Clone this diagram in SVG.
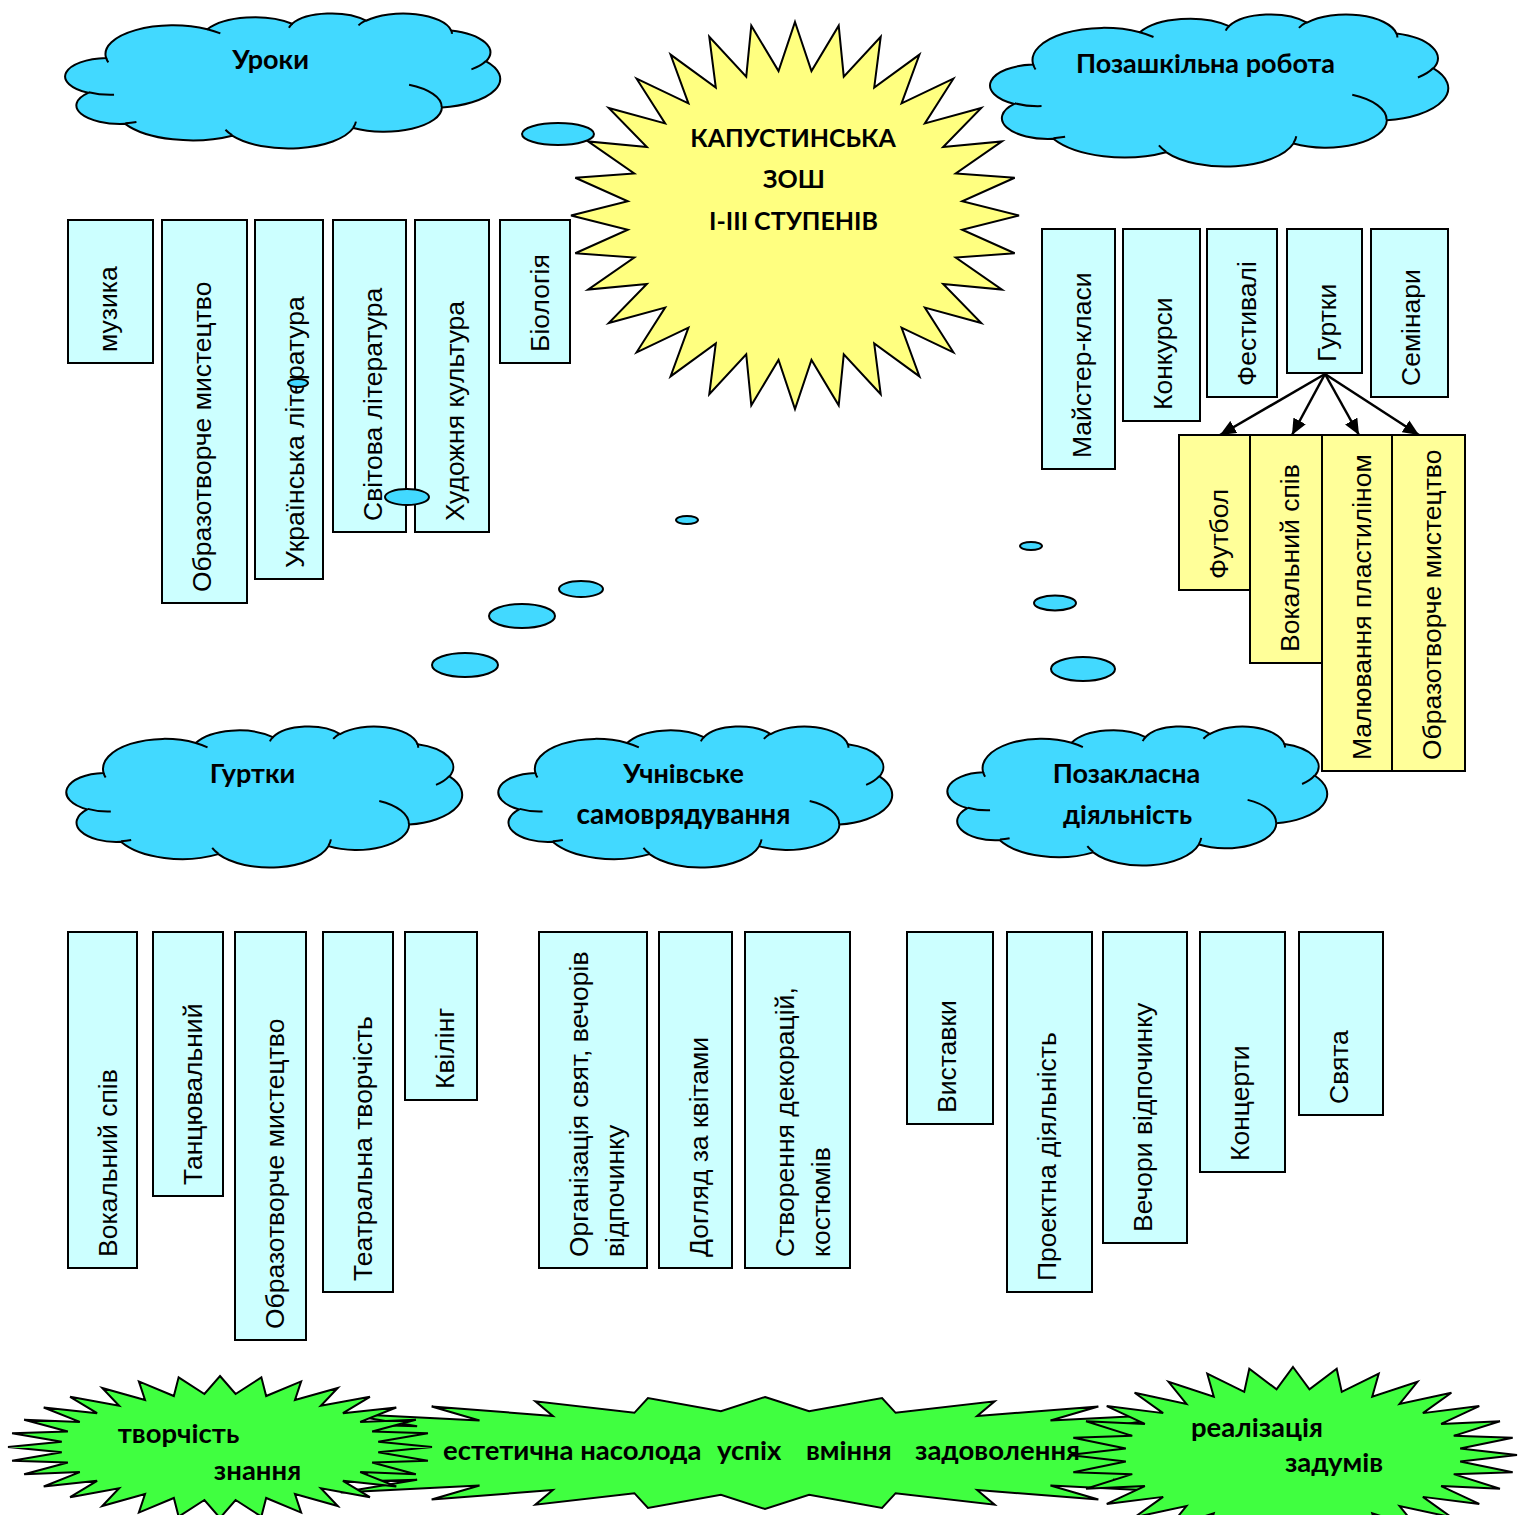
<svg xmlns="http://www.w3.org/2000/svg" width="1524" height="1515" viewBox="0 0 1524 1515">
<style>
.box{fill:#CCFFFF;stroke:#000;stroke-width:2}
.ybox{fill:#FFFF99;stroke:#000;stroke-width:2}
.bt{font-family:"Liberation Sans",Arial,sans-serif;font-size:26.5px;fill:#000}
.lb{font-family:Lato,"Noto Sans",sans-serif;font-weight:bold;font-size:27px;fill:#000;text-anchor:middle}
.gl{font-family:Lato,"Noto Sans",sans-serif;font-weight:bold;font-size:27.5px;fill:#000}
.bub{fill:#42D9FF;stroke:#000;stroke-width:2}
.cl{fill:#42D9FF}
.sun{fill:#FFFF80}
.grn{fill:#40FF40}
</style>
<defs>
<g id="cloud">
<path vector-effect="non-scaling-stroke" stroke="#000" stroke-width="2" d="M3900,14370 A6753,9190 0 0 1 14005,5202 A5333,7267 0 0 1 22457,3430 A4365,5945 0 0 1 29833,2477 A4857,6595 0 0 1 38318,5572 A5333,7273 0 0 1 41819,15456 A6775,9220 0 0 1 37406,30202 A5785,7867 0 0 1 28557,36812 A6752,9215 0 0 1 16482,39265 A7720,10543 0 0 1 5805,35469 A4360,5918 0 0 1 2112,25549 A4345,5945 0 0 1 3900,14370 Z"/>
<path vector-effect="non-scaling-stroke" fill="none" stroke="#000" stroke-width="2" d="M4693,26177 A4345,5945 0 0 1 2160,25380 M6928,34899 A4360,5918 0 0 1 5820,35280 M16478,39090 A6752,9215 0 0 1 15810,37349 M28827,34751 A6752,9215 0 0 1 28560,36660 M34129,22954 A5785,7867 0 0 1 37380,30089 M41798,15354 A5333,7273 0 0 1 40349,18031 M38324,5426 A4857,6595 0 0 1 38400,6690 M29078,3952 A4857,6595 0 0 1 29820,2340 M22141,4720 A4365,5945 0 0 1 22500,3330 M14000,5192 A6753,9190 0 0 1 15299,6540 M4127,15789 A6753,9190 0 0 1 3900,14371"/>
</g>
<polygon id="star32" vector-effect="non-scaling-stroke" stroke="#000" stroke-width="2" stroke-linejoin="miter" points="0,-1000 73.5,-746.4 195.1,-980.8 217.7,-717.7 382.7,-923.9 353.6,-661.4 555.6,-831.5 475.8,-579.8 707.1,-707.1 579.8,-475.8 831.5,-555.6 661.4,-353.6 923.9,-382.7 717.7,-217.7 980.8,-195.1 746.4,-73.5 1000,0 746.4,73.5 980.8,195.1 717.7,217.7 923.9,382.7 661.4,353.6 831.5,555.6 579.8,475.8 707.1,707.1 475.8,579.8 555.6,831.5 353.6,661.4 382.7,923.9 217.7,717.7 195.1,980.8 73.5,746.4 0,1000 -73.5,746.4 -195.1,980.8 -217.7,717.7 -382.7,923.9 -353.6,661.4 -555.6,831.5 -475.8,579.8 -707.1,707.1 -579.8,475.8 -831.5,555.6 -661.4,353.6 -923.9,382.7 -717.7,217.7 -980.8,195.1 -746.4,73.5 -1000,0 -746.4,-73.5 -980.8,-195.1 -717.7,-217.7 -923.9,-382.7 -661.4,-353.6 -831.5,-555.6 -579.8,-475.8 -707.1,-707.1 -475.8,-579.8 -555.6,-831.5 -353.6,-661.4 -382.7,-923.9 -217.7,-717.7 -195.1,-980.8 -73.5,-746.4"/>
<marker id="ah" markerUnits="userSpaceOnUse" viewBox="0 0 16 14" markerWidth="16" markerHeight="14" refX="16" refY="7" orient="auto">
<path d="M0,0 L16,7 L0,14 Z" fill="#000"/>
</marker>
</defs>

<!-- top-left lesson boxes -->
<g id="n-muzyka"><rect class="box" x="68" y="220" width="85" height="143"/><text class="bt" transform="translate(116.5,352) rotate(-90)">музика</text></g>
<g id="n-obraz1"><rect class="box" x="162" y="220" width="85" height="383"/><text class="bt" transform="translate(210.5,592) rotate(-90)">Образотворче мистецтво</text></g>
<g id="n-ukrlit"><rect class="box" x="255" y="220" width="68" height="359"/><text class="bt" transform="translate(303.5,568) rotate(-90)">Українська література</text></g>
<g id="n-svitlit"><rect class="box" x="333" y="220" width="73" height="312"/><text class="bt" transform="translate(381.5,521) rotate(-90)">Світова література</text></g>
<g id="n-khudkult"><rect class="box" x="415" y="220" width="74" height="312"/><text class="bt" transform="translate(463.5,521) rotate(-90)">Художня культура</text></g>
<g id="n-biol"><rect class="box" x="500" y="220" width="70" height="143"/><text class="bt" transform="translate(548.5,352) rotate(-90)">Біологія</text></g>

<!-- sun -->
<g id="n-sun">
<use href="#star32" class="sun" transform="translate(795,215.5) scale(0.224,0.1935)"/>
<text class="lb" style="font-size:25px" x="793" y="147">КАПУСТИНСЬКА</text>
<text class="lb" style="font-size:25px" x="794" y="188">ЗОШ</text>
<text class="lb" style="font-size:25px" x="793.5" y="230">І-ІІІ СТУПЕНІВ</text>
</g>

<!-- clouds -->
<g id="n-uroky"><use href="#cloud" class="cl" transform="translate(67,13) scale(0.010023,0.003125)"/><text class="lb" x="270.5" y="69">Уроки</text></g>
<g id="n-pozashk"><use href="#cloud" class="cl" transform="translate(992,14) scale(0.010556,0.003519)"/><text class="lb" x="1205.5" y="73">Позашкільна робота</text></g>
<g id="n-hurtky"><use href="#cloud" class="cl" transform="translate(68,726) scale(0.009120,0.003264)"/><text class="lb" x="252.5" y="783">Гуртки</text></g>
<g id="n-samovr"><use href="#cloud" class="cl" transform="translate(500,726) scale(0.009074,0.003264)"/><text class="lb" x="683.5" y="783">Учнівське</text><text class="lb" x="683.5" y="824" style="font-size:28px">самоврядування</text></g>
<g id="n-pozakl"><use href="#cloud" class="cl" transform="translate(949,726) scale(0.008750,0.003218)"/><text class="lb" x="1126.5" y="783">Позакласна</text><text class="lb" x="1127.5" y="824">діяльність</text></g>

<!-- right-top boxes -->
<g id="n-majster"><rect class="box" x="1042" y="229" width="73" height="240"/><text class="bt" transform="translate(1090.5,458) rotate(-90)">Майстер-класи</text></g>
<g id="n-konkursy"><rect class="box" x="1123" y="229" width="77" height="192"/><text class="bt" transform="translate(1171.5,410) rotate(-90)">Конкурси</text></g>
<g id="n-festyvali"><rect class="box" x="1207" y="229" width="70" height="168"/><text class="bt" transform="translate(1255.5,386) rotate(-90)">Фестивалі</text></g>
<g id="n-hurtky2"><rect class="box" x="1287" y="229" width="75" height="144"/><text class="bt" transform="translate(1335.5,362) rotate(-90)">Гуртки</text></g>
<g id="n-seminary"><rect class="box" x="1371" y="229" width="77" height="168"/><text class="bt" transform="translate(1419.5,386) rotate(-90)">Семінари</text></g>

<g id="n-futbol"><rect class="ybox" x="1179" y="435" width="71" height="155"/><text class="bt" transform="translate(1227.5,579) rotate(-90)">Футбол</text></g>
<g id="n-vokal2"><rect class="ybox" x="1250" y="435" width="72" height="228"/><text class="bt" transform="translate(1298.5,652) rotate(-90)">Вокальний спів</text></g>
<g id="n-maliuv"><rect class="ybox" x="1322" y="435" width="70" height="336"/><text class="bt" transform="translate(1370.5,760) rotate(-90)">Малювання пластиліном</text></g>
<g id="n-obraz3"><rect class="ybox" x="1392" y="435" width="73" height="336"/><text class="bt" transform="translate(1440.5,760) rotate(-90)">Образотворче мистецтво</text></g>

<g id="connectors" stroke="#000" stroke-width="2.5" fill="none">
<line x1="1325" y1="374" x2="1220" y2="435" marker-end="url(#ah)"/>
<line x1="1325" y1="374" x2="1292" y2="435" marker-end="url(#ah)"/>
<line x1="1325" y1="374" x2="1359" y2="435" marker-end="url(#ah)"/>
<line x1="1325" y1="374" x2="1419" y2="435" marker-end="url(#ah)"/>
</g>

<!-- bubbles -->
<g id="bubbles">
<ellipse class="bub" cx="558" cy="134" rx="36" ry="11"/>
<ellipse class="bub" cx="298" cy="383" rx="10" ry="4"/>
<ellipse class="bub" cx="407" cy="497" rx="22" ry="8"/>
<ellipse class="bub" cx="687" cy="520" rx="11" ry="4"/>
<ellipse class="bub" cx="581" cy="589" rx="22" ry="8"/>
<ellipse class="bub" cx="522" cy="616" rx="33" ry="12"/>
<ellipse class="bub" cx="465" cy="665" rx="33" ry="12"/>
<ellipse class="bub" cx="1031" cy="546" rx="11" ry="4"/>
<ellipse class="bub" cx="1055" cy="603" rx="21" ry="7.5"/>
<ellipse class="bub" cx="1083" cy="669" rx="32" ry="12"/>
</g>

<!-- bottom boxes -->
<g id="n-vokal1"><rect class="box" x="68" y="932" width="69" height="336"/><text class="bt" transform="translate(116.5,1257) rotate(-90)">Вокальний спів</text></g>
<g id="n-tanc"><rect class="box" x="153" y="932" width="70" height="264"/><text class="bt" transform="translate(201.5,1185) rotate(-90)">Танцювальний</text></g>
<g id="n-obraz2"><rect class="box" x="235" y="932" width="71" height="408"/><text class="bt" transform="translate(283.5,1329) rotate(-90)">Образотворче мистецтво</text></g>
<g id="n-teatr"><rect class="box" x="323" y="932" width="70" height="360"/><text class="bt" transform="translate(371.5,1281) rotate(-90)">Театральна творчість</text></g>
<g id="n-kviling"><rect class="box" x="405" y="932" width="72" height="168"/><text class="bt" transform="translate(453.5,1089) rotate(-90)">Квілінг</text></g>
<g id="n-org"><rect class="box" x="539" y="932" width="108" height="336"/><text class="bt" transform="translate(587.5,1257) rotate(-90)"><tspan x="0" y="0">Організація свят,  вечорів</tspan><tspan x="0" y="36">відпочинку</tspan></text></g>
<g id="n-dohliad"><rect class="box" x="659" y="932" width="73" height="336"/><text class="bt" transform="translate(707.5,1257) rotate(-90)">Догляд за квітами</text></g>
<g id="n-stvor"><rect class="box" x="745" y="932" width="105" height="336"/><text class="bt" transform="translate(793.5,1257) rotate(-90)"><tspan x="0" y="0">Створення декорацій,</tspan><tspan x="0" y="36">костюмів</tspan></text></g>
<g id="n-vystavky"><rect class="box" x="907" y="932" width="86" height="192"/><text class="bt" transform="translate(955.5,1113) rotate(-90)">Виставки</text></g>
<g id="n-proekt"><rect class="box" x="1007" y="932" width="85" height="360"/><text class="bt" transform="translate(1055.5,1281) rotate(-90)">Проектна діяльність</text></g>
<g id="n-vechory"><rect class="box" x="1103" y="932" width="84" height="311"/><text class="bt" transform="translate(1151.5,1232) rotate(-90)">Вечори відпочинку</text></g>
<g id="n-koncerty"><rect class="box" x="1200" y="932" width="85" height="240"/><text class="bt" transform="translate(1248.5,1161) rotate(-90)">Концерти</text></g>
<g id="n-sviata"><rect class="box" x="1299" y="932" width="84" height="183"/><text class="bt" transform="translate(1347.5,1104) rotate(-90)">Свята</text></g>

<!-- bottom green bursts -->
<g id="n-middle"><use href="#star32" class="grn" transform="translate(765,1453) scale(0.6,0.056)"/></g>
<g id="n-left"><use href="#star32" class="grn" transform="translate(220,1447) scale(0.212,0.071)"/></g>
<g id="n-right"><use href="#star32" class="grn" transform="translate(1293,1455) scale(0.224,0.088)"/></g>
<g id="t-green">
<text class="gl" x="178.5" y="1443" text-anchor="middle">творчість</text>
<text class="gl" x="257.5" y="1480" text-anchor="middle">знання</text>
<text class="gl" y="1460"><tspan x="443">естетична насолода </tspan><tspan x="717">успіх </tspan><tspan x="806">вміння </tspan><tspan x="915">задоволення</tspan></text>
<text class="gl" x="1257" y="1437" text-anchor="middle">реалізація</text>
<text class="gl" x="1334" y="1472" text-anchor="middle">задумів</text>
</g>
</svg>
